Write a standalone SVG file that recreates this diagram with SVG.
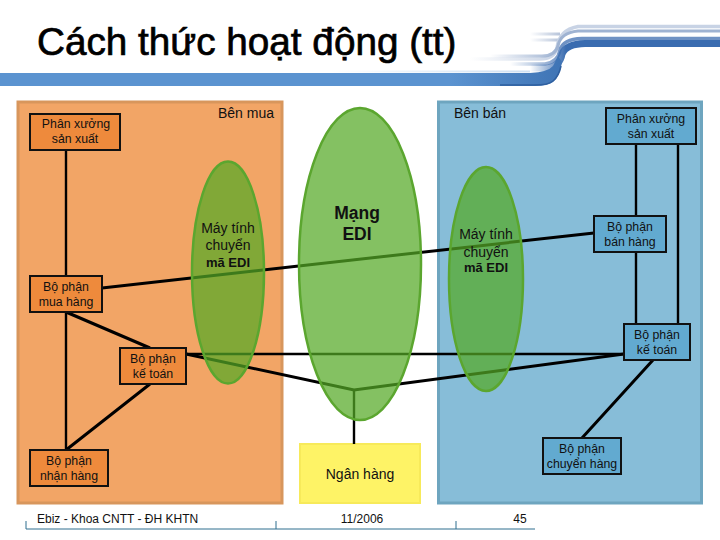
<svg xmlns="http://www.w3.org/2000/svg" width="720" height="540" viewBox="0 0 720 540">
<style>
text{font-family:"Liberation Sans",Arial,sans-serif;font-size:12.300px;fill:#111;text-anchor:middle}
.lg{font-size:14px}
.box{stroke:#111;stroke-width:2}
.o{fill:#ee8a3c}
.b{fill:#62aad0}
.l{stroke:#000;stroke-width:3;fill:none}
.t{stroke:#000;stroke-width:2.4;fill:none}
.e{fill:#55a926;fill-opacity:.72;stroke:#5ba62f;stroke-width:2.5}
.f{stroke:#2f6f8f;stroke-width:1;fill:none}
.fib{fill:none}
</style>
<defs>
<linearGradient id="bar" x1="0" x2="1" y1="0" y2="0">
<stop offset="0" stop-color="#5b93d0"/><stop offset=".8" stop-color="#5b93d0"/><stop offset="1" stop-color="#3f74b5"/>
</linearGradient>
<linearGradient id="g1" gradientUnits="userSpaceOnUse" x1="470" x2="556" y1="0" y2="0"><stop offset="0" stop-color="#c8d3e5" stop-opacity="0"/><stop offset="1" stop-color="#c8d3e5"/></linearGradient>
<linearGradient id="g2" gradientUnits="userSpaceOnUse" x1="490" x2="556" y1="0" y2="0"><stop offset="0" stop-color="#9fb3d2" stop-opacity="0"/><stop offset="1" stop-color="#9fb3d2"/></linearGradient>
<linearGradient id="g3" gradientUnits="userSpaceOnUse" x1="510" x2="562" y1="0" y2="0"><stop offset="0" stop-color="#6f92c4" stop-opacity="0"/><stop offset="1" stop-color="#6f92c4"/></linearGradient>
<linearGradient id="g4" gradientUnits="userSpaceOnUse" x1="530" x2="566" y1="0" y2="0"><stop offset="0" stop-color="#3a6cb0" stop-opacity="0"/><stop offset="1" stop-color="#3a6cb0"/></linearGradient>
<linearGradient id="g5" gradientUnits="userSpaceOnUse" x1="530" x2="560" y1="0" y2="0"><stop offset="0" stop-color="#b7c4da" stop-opacity="0"/><stop offset="1" stop-color="#b7c4da"/></linearGradient>
<linearGradient id="g6" gradientUnits="userSpaceOnUse" x1="330" x2="520" y1="0" y2="0"><stop offset="0" stop-color="#cfe0f2" stop-opacity="0"/><stop offset="1" stop-color="#cfe0f2"/></linearGradient>
</defs>
<rect width="720" height="540" fill="#fff"/>
<g id="header">
<path d="M530 34H560M525 40H560" class="fib" stroke="url(#g5)" stroke-width="3"/>
<path class="fib" d="M470 59H540Q554 59 557 48Q559 30 578 26.500H720" stroke="url(#g1)" stroke-width="3.500"/>
<path class="fib" d="M490 56H542Q555 56 558 46Q560 33 578 31H720" stroke="url(#g2)" stroke-width="3"/>
<path class="fib" d="M510 64H545Q558 62 560 50Q563 39 582 38.500H720" stroke="url(#g3)" stroke-width="3.500"/>
<path class="fib" d="M530 68H548Q560 66 562 54Q566 44 585 43.500H720" stroke="url(#g4)" stroke-width="7"/>
<path d="M330 71.500H530" stroke="url(#g6)" stroke-width="2" fill="none"/>
<path d="M0 73H530Q548 72 553 66L558 56L562 62Q560 76 553 82Q548 86 535 86H0Z" fill="url(#bar)"/>
<path d="M500 85H535Q548 85 553 81Q559 76 561 66" fill="none" stroke="#2f5f9f" stroke-width="1.500"/>
<text x="37" y="54.500" style="font-size:38.700px;text-anchor:start;fill:#000;stroke:#000;stroke-width:.7">Cách thức hoạt động (tt)</text>
</g>
<rect id="buyer" x="18" y="102" width="264" height="401" fill="#f2a566" stroke="#d8965c" stroke-width="3"/>
<rect id="seller" x="438.500" y="102" width="263" height="401" fill="#87bdd8" stroke="#6ea5bf" stroke-width="3"/>
<g id="bank"><rect x="300" y="444" width="120" height="59" fill="#fef366" stroke="#f7ea5a" stroke-width="2"/><text class="lg" x="360" y="479">Ngân hàng</text></g>
<text class="lg" x="246" y="118">Bên mua</text>
<text class="lg" x="480" y="118">Bên bán</text>
<g id="connectors">
<path class="t" d="M66 150V450M636 144V324M678 144V324"/>
<path class="l" d="M102 288L594 233"/>
<path class="t" d="M186 354H624"/>
<path class="l" d="M186 354L354 390L624 354"/>
<path class="t" d="M354 390V444"/>
<path class="l" d="M66 312L150 348M150 384L66 450M653 360L582 438"/>
</g>
<g id="edi-buyer"><ellipse class="e" cx="228" cy="272.500" rx="36" ry="111"/><text class="lg" x="228" y="233">Máy tính</text><text class="lg" x="228" y="250">chuyển</text><text x="228" y="267" style="font-size:13px;font-weight:bold">mã EDI</text></g>
<g id="edi-network"><ellipse class="e" cx="360" cy="264" rx="61" ry="156"/><text x="357" y="219" style="font-size:17.500px;font-weight:bold">Mạng</text><text x="357" y="240" style="font-size:17.500px;font-weight:bold">EDI</text></g>
<g id="edi-seller"><ellipse class="e" cx="486" cy="279" rx="37" ry="112"/><text class="lg" x="486" y="239">Máy tính</text><text class="lg" x="486" y="257">chuyển</text><text x="486" y="272" style="font-size:13px;font-weight:bold">mã EDI</text></g>
<g id="buyer-factory"><rect class="box o" x="30" y="114" width="90" height="36"/><text x="76" y="128">Phân xưởng</text><text x="75" y="143">sản xuất</text></g>
<g id="buyer-purchase"><rect class="box o" x="30" y="276" width="72" height="36"/><text x="66" y="291">Bộ phận</text><text x="66" y="306">mua hàng</text></g>
<g id="buyer-accounting"><rect class="box o" x="120" y="348" width="66" height="36"/><text x="153" y="363">Bộ phận</text><text x="153" y="378">kế toán</text></g>
<g id="buyer-receiving"><rect class="box o" x="30" y="450" width="78" height="36"/><text x="69" y="465">Bộ phận</text><text x="69" y="480">nhận hàng</text></g>
<g id="seller-factory"><rect class="box b" x="606" y="108" width="90" height="36"/><text x="651" y="123">Phân xưởng</text><text x="651" y="138">sản xuất</text></g>
<g id="seller-sales"><rect class="box b" x="594" y="216" width="72" height="36"/><text x="630" y="231">Bộ phận</text><text x="630" y="246">bán hàng</text></g>
<g id="seller-accounting"><rect class="box b" x="624" y="324" width="66" height="36"/><text x="657" y="339">Bộ phận</text><text x="657" y="354">kế toán</text></g>
<g id="seller-shipping"><rect class="box b" x="543" y="438" width="78" height="36"/><text x="582" y="453">Bộ phận</text><text x="582" y="468">chuyển hàng</text></g>
<g id="footer">
<path class="f" d="M26 529H535M26 529V521M276 529V521M456 529V521"/>
<text x="37" y="523" style="text-anchor:start;font-size:12px">Ebiz - Khoa CNTT - ĐH KHTN</text>
<text x="362" y="523" style="font-size:12px">11/2006</text>
<text x="520" y="523" style="font-size:12px">45</text>
</g>
</svg>
